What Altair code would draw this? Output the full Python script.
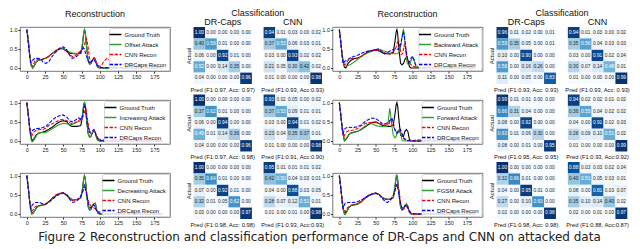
import altair as alt
import pandas as pd

FONT = "Liberation Sans"
CAPTION_FONT = "DejaVu Sans"
BLUES = ["#f7fbff", "#deebf7", "#c6dbef", "#9ecae1", "#6baed6", "#4292c6", "#2171b5", "#08519c", "#08306b"]
BLUE_STOPS = [0, 0.125, 0.25, 0.375, 0.5, 0.625, 0.75, 0.875, 1.0]
X_TICKS = [0, 25, 50, 75, 100, 125, 150, 175]
Y_TICKS = [0.0, 0.5, 1.0]
SERIES_COLORS = ["#000000", "#2ca02c", "#ff0000", "#0000ff"]
SERIES_DASH = [[1, 0], [1, 0], [3.5, 1.5], [3.5, 1.5]]
CLASS_KEYS = ["D0", "D1", "D2", "D3", "D4", "G", "C0", "C1", "C2", "C3", "C4"]
CAPTION = "Figure 2  Reconstruction and classification performance of DR-Caps and CNN on attacked data"

# ---------------- line data (x, y) ----------------
GT_OFF = [(0,1.0),(2,0.75),(4,0.35),(6,0.08),(8,0.0),(10,0.05),(13,0.16),(16,0.2),(20,0.22),(25,0.25),(30,0.3),(35,0.38),(40,0.45),(45,0.5),(50,0.5),(55,0.43),(60,0.38),(65,0.37),(70,0.37),(74,0.38),(76,0.55),(78,0.9),(79,1.0),(80,0.95),(82,0.55),(84,0.2),(86,0.1),(88,0.12),(90,0.2),(92,0.26),(94,0.22),(96,0.06),(98,0.01),(100,0.0),(120,0.0),(150,0.0),(186,0.0)]
ATK_OFF = [(0,1.0),(2,0.75),(4,0.35),(6,0.08),(8,0.0),(10,0.05),(13,0.16),(16,0.2),(20,0.22),(25,0.25),(30,0.3),(35,0.38),(40,0.46),(45,0.52),(50,0.52),(55,0.45),(60,0.4),(65,0.38),(70,0.38),(74,0.4),(76,0.6),(78,0.92),(79,1.0),(80,0.95),(82,0.55),(84,0.2),(86,0.1),(88,0.12),(90,0.2),(92,0.27),(94,0.22),(96,0.06),(98,0.01),(100,0.0),(119,0.0),(120,0.08),(172,0.08),(173,0.0),(186,0.0)]
CNN_OFF = [(0,1.0),(3,0.5),(6,0.06),(8,0.05),(11,0.18),(15,0.22),(20,0.22),(25,0.24),(30,0.3),(35,0.38),(40,0.46),(45,0.5),(50,0.5),(55,0.42),(60,0.33),(64,0.28),(68,0.35),(72,0.42),(76,0.48),(79,0.62),(82,0.77),(84,0.55),(86,0.25),(88,0.15),(90,0.2),(93,0.26),(96,0.12),(99,0.04),(102,0.05),(106,0.18),(110,0.25),(114,0.2),(118,0.06),(122,0.04),(126,0.1),(135,0.1),(145,0.08),(150,0.04),(158,0.1),(165,0.08),(172,0.03),(180,0.02),(186,0.01)]
DRC_OFF = [(0,1.0),(3,0.45),(5,0.15),(8,0.2),(11,0.25),(15,0.25),(19,0.24),(22,0.16),(26,0.12),(30,0.15),(34,0.28),(38,0.38),(42,0.45),(46,0.52),(50,0.55),(54,0.5),(58,0.36),(62,0.25),(66,0.27),(70,0.33),(74,0.42),(77,0.52),(79,0.5),(81,0.35),(84,0.2),(87,0.12),(90,0.2),(92,0.23),(95,0.12),(98,0.04),(102,0.01),(120,0.0),(186,0.0)]

GT_INC = [(0,1.0),(2,0.7),(4,0.3),(7,0.0),(10,0.06),(13,0.16),(16,0.2),(20,0.22),(25,0.25),(30,0.3),(35,0.36),(40,0.44),(45,0.5),(50,0.53),(55,0.5),(58,0.42),(62,0.38),(66,0.38),(70,0.38),(74,0.4),(76,0.6),(78,0.95),(79,1.0),(80,0.95),(82,0.55),(84,0.2),(86,0.1),(88,0.12),(90,0.22),(92,0.27),(94,0.22),(96,0.06),(98,0.01),(100,0.0),(186,0.0)]
ATK_INC = [(0,1.0),(2,0.7),(4,0.3),(6,0.02),(8,-0.02),(10,0.03),(13,0.13),(16,0.2),(20,0.22),(25,0.21),(30,0.26),(35,0.32),(40,0.38),(45,0.43),(50,0.46),(55,0.45),(58,0.42),(62,0.43),(66,0.47),(70,0.5),(74,0.52),(76,0.65),(78,0.95),(79,1.0),(80,0.95),(82,0.55),(84,0.2),(86,0.1),(88,0.12),(90,0.22),(92,0.27),(94,0.22),(96,0.06),(98,0.01),(100,0.0),(186,0.0)]
CNN_INC = [(0,1.0),(3,0.5),(6,0.1),(9,0.22),(13,0.28),(18,0.3),(22,0.3),(26,0.33),(30,0.4),(35,0.45),(40,0.5),(45,0.55),(50,0.56),(55,0.53),(60,0.46),(64,0.45),(68,0.5),(72,0.55),(76,0.58),(79,0.75),(81,0.85),(83,0.6),(85,0.35),(88,0.18),(90,0.2),(93,0.26),(96,0.12),(99,0.04),(104,0.02),(109,0.06),(113,0.1),(117,0.07),(121,0.02),(130,0.01),(145,0.02),(160,0.01),(186,0.0)]
DRC_INC = [(0,1.0),(3,0.5),(5,0.18),(8,0.28),(12,0.32),(18,0.33),(22,0.35),(26,0.38),(30,0.45),(35,0.55),(40,0.62),(45,0.66),(50,0.68),(55,0.62),(59,0.52),(63,0.5),(67,0.55),(71,0.6),(75,0.57),(77,0.7),(79,0.95),(81,0.8),(83,0.45),(86,0.22),(89,0.25),(92,0.3),(95,0.15),(98,0.05),(102,0.01),(110,0.0),(186,0.0)]

GT_DEC = [(0,1.0),(2,0.7),(4,0.3),(7,0.0),(10,0.06),(13,0.16),(16,0.21),(20,0.23),(25,0.25),(30,0.32),(35,0.4),(40,0.48),(45,0.53),(50,0.55),(55,0.5),(58,0.43),(62,0.38),(66,0.37),(70,0.38),(74,0.42),(76,0.6),(78,0.92),(79,1.0),(80,0.95),(82,0.55),(84,0.2),(86,0.1),(88,0.12),(90,0.22),(92,0.27),(94,0.28),(96,0.08),(98,0.01),(100,0.0),(186,0.0)]
ATK_DEC = [(0,1.0),(2,0.7),(4,0.3),(6,0.03),(8,0.0),(10,0.05),(13,0.15),(16,0.2),(20,0.22),(25,0.24),(30,0.31),(35,0.39),(40,0.47),(45,0.52),(50,0.54),(55,0.49),(58,0.42),(62,0.38),(66,0.37),(70,0.38),(74,0.42),(76,0.6),(78,0.92),(79,1.0),(80,0.95),(82,0.55),(84,0.2),(86,0.1),(88,0.12),(90,0.22),(92,0.27),(94,0.28),(96,0.08),(98,0.01),(100,0.0),(186,0.0)]
CNN_DEC = [(0,1.0),(3,0.5),(6,0.1),(8,0.08),(11,0.18),(15,0.22),(20,0.22),(25,0.25),(30,0.32),(35,0.42),(40,0.5),(45,0.54),(50,0.55),(55,0.48),(59,0.38),(63,0.35),(67,0.37),(71,0.4),(75,0.5),(78,0.65),(80,0.72),(82,0.55),(85,0.3),(88,0.2),(91,0.18),(94,0.13),(97,0.08),(100,0.05),(105,0.05),(110,0.06),(115,0.1),(119,0.08),(124,0.04),(130,0.02),(140,0.02),(160,0.01),(186,0.0)]
DRC_DEC = [(0,1.0),(3,0.5),(5,0.15),(8,0.25),(12,0.3),(16,0.3),(20,0.28),(25,0.25),(30,0.3),(35,0.38),(40,0.46),(45,0.52),(50,0.55),(55,0.48),(59,0.38),(63,0.3),(67,0.32),(71,0.38),(75,0.5),(77,0.62),(79,0.75),(81,0.6),(83,0.38),(86,0.18),(88,0.15),(90,0.2),(92,0.24),(95,0.12),(98,0.03),(102,0.01),(110,0.0),(186,0.0)]

GT_BWD = [(0,1.0),(2,0.7),(4,0.3),(7,0.02),(9,0.0),(12,0.12),(16,0.2),(20,0.24),(25,0.26),(30,0.3),(35,0.37),(40,0.43),(45,0.46),(50,0.48),(55,0.44),(60,0.39),(65,0.37),(70,0.37),(74,0.42),(76,0.65),(78,0.95),(79,1.0),(80,0.9),(82,0.45),(84,0.12),(86,0.08),(88,0.12),(90,0.22),(92,0.28),(94,0.2),(96,0.04),(98,0.0),(186,0.0)]
ATK_BWD = [(0,1.0),(2,0.7),(4,0.3),(7,0.05),(10,0.05),(13,0.07),(16,0.1),(20,0.15),(25,0.22),(30,0.3),(35,0.36),(40,0.4),(45,0.44),(50,0.47),(55,0.48),(60,0.45),(65,0.42),(70,0.38),(75,0.37),(80,0.37),(83,0.45),(85,0.65),(87,0.95),(88,1.0),(89,0.9),(91,0.45),(93,0.12),(95,0.08),(97,0.12),(99,0.22),(101,0.28),(103,0.2),(105,0.04),(107,0.0),(186,0.0)]
CNN_BWD = [(0,1.0),(3,0.5),(6,0.08),(9,0.1),(12,0.2),(16,0.25),(20,0.25),(25,0.26),(30,0.3),(35,0.36),(40,0.42),(45,0.46),(50,0.46),(55,0.44),(60,0.4),(65,0.38),(70,0.36),(74,0.4),(78,0.55),(81,0.75),(83,0.55),(85,0.35),(87,0.38),(89,0.6),(91,0.5),(93,0.25),(96,0.12),(100,0.06),(105,0.02),(110,0.01),(118,0.03),(124,0.05),(130,0.02),(140,0.01),(186,0.0)]
DRC_BWD = [(0,1.0),(3,0.45),(5,0.12),(8,0.18),(12,0.22),(16,0.28),(20,0.3),(25,0.33),(30,0.38),(35,0.42),(40,0.44),(45,0.45),(50,0.48),(55,0.5),(59,0.42),(62,0.36),(66,0.4),(70,0.45),(74,0.48),(78,0.5),(81,0.48),(84,0.6),(86,0.8),(88,0.95),(90,0.7),(92,0.42),(94,0.2),(96,0.15),(99,0.28),(101,0.3),(103,0.15),(106,0.04),(110,0.0),(186,0.0)]

GT_FWD = [(0,1.0),(2,0.7),(4,0.3),(7,0.0),(10,0.06),(13,0.16),(16,0.21),(20,0.23),(25,0.25),(30,0.3),(35,0.36),(40,0.43),(45,0.48),(50,0.5),(55,0.45),(60,0.4),(65,0.38),(70,0.38),(74,0.42),(76,0.65),(78,0.95),(79,1.0),(80,0.92),(82,0.5),(84,0.15),(86,0.12),(88,0.12),(90,0.25),(92,0.3),(94,0.25),(96,0.05),(98,0.0),(186,0.0)]
ATK_FWD = [(0,1.0),(2,0.7),(4,0.3),(7,0.0),(10,0.08),(13,0.17),(16,0.2),(20,0.22),(25,0.25),(30,0.31),(35,0.38),(40,0.45),(45,0.45),(50,0.4),(55,0.38),(60,0.38),(65,0.38),(67,0.5),(69,0.85),(70,0.75),(72,0.4),(74,0.15),(76,0.08),(78,0.12),(80,0.25),(82,0.3),(84,0.2),(86,0.02),(88,0.0),(186,0.0)]
CNN_FWD = [(0,1.0),(3,0.5),(6,0.1),(9,0.22),(13,0.27),(18,0.28),(22,0.3),(26,0.34),(30,0.4),(35,0.45),(40,0.48),(45,0.48),(50,0.48),(55,0.45),(60,0.42),(64,0.42),(68,0.45),(71,0.55),(73,0.45),(76,0.3),(79,0.22),(82,0.25),(85,0.22),(88,0.08),(92,0.02),(100,0.01),(108,0.03),(115,0.02),(122,0.05),(130,0.04),(138,0.06),(145,0.03),(155,0.02),(170,0.01),(186,0.0)]
DRC_FWD = [(0,1.0),(3,0.5),(5,0.2),(8,0.33),(12,0.36),(18,0.35),(22,0.36),(26,0.38),(30,0.42),(35,0.5),(40,0.56),(45,0.6),(50,0.58),(55,0.52),(59,0.45),(63,0.45),(67,0.48),(70,0.55),(72,0.6),(74,0.48),(76,0.3),(79,0.2),(82,0.25),(84,0.3),(86,0.18),(89,0.05),(93,0.01),(100,0.0),(186,0.0)]

GT_FGSM = [(0,1.0),(2,0.7),(4,0.3),(7,0.0),(10,0.06),(13,0.16),(16,0.22),(20,0.24),(25,0.26),(30,0.32),(35,0.4),(40,0.47),(45,0.52),(50,0.54),(55,0.5),(58,0.44),(62,0.4),(66,0.38),(70,0.38),(74,0.43),(76,0.65),(78,0.95),(79,1.0),(80,0.9),(82,0.5),(84,0.18),(86,0.1),(88,0.14),(90,0.22),(92,0.26),(94,0.2),(96,0.05),(98,0.0),(186,0.0)]
ATK_FGSM = [(0,1.0),(2,0.7),(4,0.28),(6,0.05),(8,-0.02),(10,0.04),(13,0.16),(16,0.22),(20,0.23),(25,0.25),(30,0.31),(35,0.41),(40,0.48),(45,0.53),(50,0.53),(55,0.51),(58,0.43),(62,0.41),(66,0.37),(70,0.39),(74,0.44),(76,0.7),(78,1.0),(79,0.98),(80,0.88),(82,0.5),(84,0.16),(86,0.11),(88,0.13),(90,0.23),(92,0.25),(94,0.19),(96,0.04),(98,0.01),(100,0.0),(186,0.0)]
CNN_FGSM = [(0,1.0),(3,0.5),(6,0.1),(8,0.06),(11,0.16),(15,0.22),(20,0.24),(25,0.27),(30,0.32),(35,0.42),(40,0.49),(45,0.53),(50,0.55),(55,0.5),(59,0.42),(63,0.38),(67,0.38),(71,0.4),(75,0.5),(78,0.72),(80,0.8),(82,0.6),(84,0.3),(86,0.12),(88,0.12),(90,0.18),(92,0.2),(94,0.15),(97,0.05),(100,0.0),(105,-0.02),(112,0.0),(130,0.01),(186,0.0)]
DRC_FGSM = [(0,1.0),(3,0.5),(5,0.15),(8,0.28),(12,0.3),(16,0.3),(20,0.3),(25,0.32),(30,0.36),(35,0.42),(40,0.48),(45,0.52),(50,0.55),(55,0.5),(59,0.4),(63,0.32),(66,0.3),(70,0.36),(74,0.48),(77,0.65),(79,0.78),(81,0.6),(83,0.35),(86,0.16),(88,0.14),(90,0.2),(92,0.24),(95,0.12),(98,0.03),(102,0.01),(110,0.0),(186,0.0)]

# ---------------- confusion matrices ----------------
DR_OFF = [[1.00,0.00,0.00,0.00,0.00],[0.40,0.59,0.01,0.00,0.00],[0.06,0.00,0.92,0.01,0.00],[0.52,0.00,0.14,0.35,0.00],[0.04,0.00,0.00,0.00,0.96]]
CN_OFF = [[0.94,0.01,0.03,0.00,0.02],[0.37,0.53,0.06,0.03,0.01],[0.03,0.00,0.93,0.02,0.02],[0.21,0.05,0.30,0.42,0.02],[0.01,0.00,0.00,0.00,0.98]]
DR_INC = [[1.00,0.00,0.00,0.00,0.00],[0.37,0.62,0.01,0.00,0.00],[0.06,0.00,0.94,0.00,0.00],[0.49,0.01,0.14,0.36,0.00],[0.04,0.00,0.00,0.00,0.96]]
CN_INC = [[0.93,0.02,0.05,0.00,0.02],[0.37,0.53,0.09,0.01,0.01],[0.03,0.00,0.94,0.01,0.02],[0.23,0.04,0.35,0.37,0.01],[0.01,0.00,0.00,0.00,0.98]]
DR_DEC = [[1.00,0.00,0.00,0.00,0.00],[0.35,0.64,0.01,0.00,0.00],[0.07,0.00,0.92,0.01,0.00],[0.32,0.01,0.05,0.62,0.00],[0.03,0.00,0.00,0.00,0.97]]
CN_DEC = [[0.95,0.01,0.01,0.01,0.02],[0.42,0.50,0.04,0.03,0.01],[0.04,0.00,0.88,0.03,0.05],[0.28,0.07,0.12,0.51,0.01],[0.01,0.00,0.01,0.00,0.98]]
DR_BWD = [[0.96,0.01,0.02,0.00,0.01],[0.59,0.35,0.05,0.00,0.01],[0.10,0.00,0.90,0.00,0.00],[0.58,0.00,0.16,0.26,0.00],[0.11,0.00,0.05,0.00,0.83]]
CN_BWD = [[0.94,0.01,0.03,0.00,0.02],[0.35,0.56,0.04,0.03,0.03],[0.03,0.00,0.91,0.02,0.04],[0.30,0.07,0.14,0.48,0.01],[0.01,0.00,0.00,0.00,0.99]]
DR_FWD = [[0.99,0.01,0.01,0.00,0.00],[0.66,0.31,0.04,0.00,0.00],[0.08,0.00,0.92,0.00,0.00],[0.63,0.01,0.06,0.30,0.00],[0.08,0.00,0.01,0.00,0.95]]
CN_FWD = [[0.94,0.02,0.02,0.01,0.02],[0.36,0.55,0.04,0.02,0.02],[0.04,0.00,0.91,0.02,0.03],[0.28,0.09,0.10,0.51,0.02],[0.01,0.00,0.00,0.00,0.99]]
DR_FGSM = [[1.00,0.00,0.00,0.00,0.00],[0.32,0.66,0.01,0.00,0.00],[0.04,0.00,0.95,0.01,0.00],[0.27,0.00,0.10,0.63,0.00],[0.02,0.00,0.00,0.00,0.98]]
CN_FGSM = [[0.88,0.03,0.03,0.02,0.04],[0.40,0.51,0.05,0.03,0.01],[0.08,0.00,0.81,0.03,0.07],[0.35,0.10,0.14,0.40,0.02],[0.02,0.00,0.01,0.00,0.97]]

LBL_DR_OFF, LBL_CN_OFF = "Pred (F1:0.97, Acc: 0.97)", "Pred (F1:0.93, Acc:0.93)"
LBL_DR_INC, LBL_CN_INC = "Pred (F1:0.97, Acc: 0.98)", "Pred (F1:0.91, Acc:0.90)"
LBL_DR_DEC, LBL_CN_DEC = "Pred (F1:0.98, Acc: 0.98)", "Pred (F1:0.93, Acc:0.93)"
LBL_DR_BWD, LBL_CN_BWD = "Pred (F1:0.93, Acc: 0.93)", "Pred (F1:0.93, Acc: 0.93)"
LBL_DR_FWD, LBL_CN_FWD = "Pred (F1:0.95, Acc: 0.95)", "Pred (F1:0.93, Acc:0.92)"
LBL_DR_FGSM, LBL_CN_FGSM = "Pred (F1:0.98, Acc: 0.98)", "Pred (F1:0.88, Acc:0.87)"

LINE_W, LINE_H = 150, 44
MAT_H = 57
TITLE_SIZE = 9
TOP_LABEL_PAD = 0.5
CLASS_TITLE_OFFSET = 0
LINE_TITLE_OFFSET = 8.5


def line_chart(gt, atk, cnn, drc, attack, title=None):
    names = ["Ground Truth", attack, "CNN Recon", "DRCaps Recon"]
    rows = []
    for nm, pts in zip(names, [gt, atk, cnn, drc]):
        for x, y in pts:
            rows.append({"x": x, "y": y, "s": nm})
    df = pd.DataFrame(rows)
    leg = alt.Legend(title=None, orient="top-right", offset=1, labelFontSize=6, labelFont=FONT,
                     symbolType="M-2,0L2,0", symbolSize=36, symbolStrokeWidth=1.3, rowPadding=3,
                     labelOffset=5, padding=2.5, fillColor="rgba(255,255,255,0.85)",
                     strokeColor="#d5d5d5", cornerRadius=2, labelLimit=200, labelColor="#111")
    c = alt.Chart(df).mark_line(strokeWidth=1.1, clip=True).encode(
        x=alt.X("x:Q", scale=alt.Scale(domain=[-9.35, 196.35], nice=False, zero=False),
                axis=alt.Axis(values=X_TICKS, title=None, grid=False, domain=False, labelFontSize=5.5,
                              tickSize=2, labelPadding=1, tickColor="#333", labelColor="#222")),
        y=alt.Y("y:Q", scale=alt.Scale(domain=[-0.08, 1.07], nice=False, zero=False),
                axis=alt.Axis(values=Y_TICKS, format=".1f", title=None, grid=False, domain=False,
                              labelFontSize=5.5, tickSize=2, labelPadding=1, tickColor="#333", labelColor="#222")),
        color=alt.Color("s:N", scale=alt.Scale(domain=names, range=SERIES_COLORS), legend=leg),
        strokeDash=alt.StrokeDash("s:N", scale=alt.Scale(domain=names, range=SERIES_DASH), legend=leg),
    )
    props = dict(width=LINE_W, height=LINE_H, view=alt.ViewBackground(stroke="#555", strokeWidth=0.8))
    if title is not None:
        props["title"] = alt.TitleParams(text=title, fontSize=TITLE_SIZE, font=FONT, fontWeight="normal",
                                         anchor="middle", color="#111", offset=LINE_TITLE_OFFSET)
    return c.properties(**props)


def class_chart(dr, cn, dr_lbl, cn_lbl, width, top=False):
    rows = []
    for pre, m in (("D", dr), ("C", cn)):
        for i in range(5):
            for j in range(5):
                rows.append({"k": f"{pre}{j}", "a": i, "v": m[i][j]})
    df = pd.DataFrame(rows)
    xs = alt.Scale(domain=CLASS_KEYS, paddingInner=0, paddingOuter=0)
    ys = alt.Scale(paddingInner=0, paddingOuter=0)
    bottom_expr = f"datum.value == 'D2' ? '{dr_lbl}' : datum.value == 'C2' ? '{cn_lbl}' : ''"
    bottom_axis = alt.Axis(orient="bottom", title=None, ticks=False, tickSize=0, domain=False,
                           labelExpr=bottom_expr, labelFontSize=5.8, labelFont=FONT, labelPadding=2,
                           labelOverlap=False, labelLimit=300, labelAngle=0, labelColor="#111")
    y_axis = alt.Axis(labels=False, ticks=False, tickSize=0, domain=False, title="Actual",
                      titleFontSize=6, titleFont=FONT, titleFontWeight="normal", titlePadding=2,
                      titleColor="#111")
    rect = alt.Chart(df).mark_rect().encode(
        x=alt.X("k:N", scale=xs, axis=bottom_axis),
        y=alt.Y("a:O", scale=ys, axis=y_axis),
        color=alt.Color("v:Q", scale=alt.Scale(domain=BLUE_STOPS, range=BLUES), legend=None))
    if top:
        top_axis = alt.Axis(orient="top", title=None, ticks=False, tickSize=0, domain=False,
                            labelExpr="datum.value == 'D2' ? 'DR-Caps' : datum.value == 'C2' ? 'CNN' : ''",
                            labelFontSize=TITLE_SIZE, labelFont=FONT, labelPadding=TOP_LABEL_PAD,
                            labelOverlap=False, labelAngle=0, labelColor="#111")
        tx = alt.X("k:N", scale=xs, axis=top_axis)
    else:
        tx = alt.X("k:N", scale=xs, axis=bottom_axis)
    text = alt.Chart(df).mark_text(fontSize=4.8, font=FONT).encode(
        x=tx, y=alt.Y("a:O", scale=ys, axis=y_axis),
        text=alt.Text("v:Q", format=".2f"),
        color=alt.condition("datum.v > 0.45", alt.value("white"), alt.value("#262626")))
    layer = alt.layer(rect, text)
    props = dict(width=width, height=MAT_H)
    if top:
        layer = layer.resolve_axis(x="independent")
        props["title"] = alt.TitleParams(text="Classification", fontSize=TITLE_SIZE, font=FONT,
                                         fontWeight="normal", anchor="middle", color="#111",
                                         offset=CLASS_TITLE_OFFSET)
    return layer.properties(**props)


def vcol(charts, spacing):
    return alt.vconcat(*charts, spacing=spacing, bounds="flush").resolve_scale(
        color="independent", strokeDash="independent")


def hpair(a, b, spacing):
    return alt.hconcat(a, b, spacing=spacing).resolve_scale(color="independent", strokeDash="independent")


line_L = vcol([line_chart(GT_OFF, ATK_OFF, CNN_OFF, DRC_OFF, "Offset Attack", "Reconstruction"),
               line_chart(GT_INC, ATK_INC, CNN_INC, DRC_INC, "Increasing Attack"),
               line_chart(GT_DEC, ATK_DEC, CNN_DEC, DRC_DEC, "Decreasing Attack")], 29)
class_L = vcol([class_chart(DR_OFF, CN_OFF, LBL_DR_OFF, LBL_CN_OFF, 128.5, top=True),
                class_chart(DR_INC, CN_INC, LBL_DR_INC, LBL_CN_INC, 128.5),
                class_chart(DR_DEC, CN_DEC, LBL_DR_DEC, LBL_CN_DEC, 128.5)], 10.5)
line_R = vcol([line_chart(GT_BWD, ATK_BWD, CNN_BWD, DRC_BWD, "Backward Attack", "Reconstruction"),
               line_chart(GT_FWD, ATK_FWD, CNN_FWD, DRC_FWD, "Forward Attack"),
               line_chart(GT_FGSM, ATK_FGSM, CNN_FGSM, DRC_FGSM, "FGSM Attack")], 29)
class_R = vcol([class_chart(DR_BWD, CN_BWD, LBL_DR_BWD, LBL_CN_BWD, 130.8, top=True),
                class_chart(DR_FWD, CN_FWD, LBL_DR_FWD, LBL_CN_FWD, 130.8),
                class_chart(DR_FGSM, CN_FGSM, LBL_DR_FGSM, LBL_CN_FGSM, 130.8)], 10.5)

group_L = hpair(line_L, class_L, 13.5)
group_R = hpair(line_R, class_R, 4)
chart = hpair(group_L, group_R, -4.5)

chart = chart.properties(
    padding=0,
    title=alt.TitleParams(text=CAPTION, orient="bottom", anchor="middle", fontSize=12, font=CAPTION_FONT,
                          fontWeight="normal", offset=5, color="#222"),
).configure_view(stroke="transparent")

chart.save("out.html", embed_options={"renderer": "svg", "actions": False})
